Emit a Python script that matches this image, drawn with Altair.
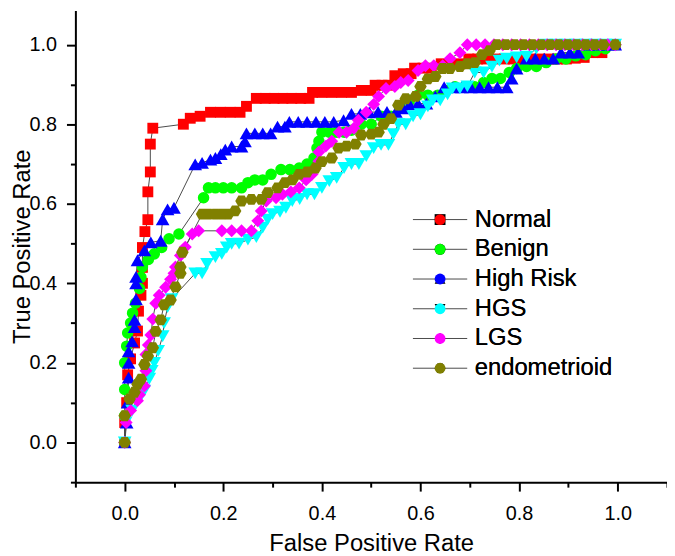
import altair as alt
import pandas as pd

names = ["Normal", "Benign", "High Risk", "HGS", "LGS", "endometrioid"]
colors = ["#FF0000", "#00FF00", "#0000FF", "#00FFFF", "#FF00FF", "#808000"]
hexagon = "M-1,0L-0.5,-0.866L0.5,-0.866L1,0L0.5,0.866L-0.5,0.866Z"
shapes = ["square", "circle", "triangle-up", "triangle-down", "diamond", hexagon]
sizes = [120, 135, 190, 190, 170, 160]

normal_x = [0.000, 0.000, 0.004, 0.006, 0.012, 0.020, 0.026, 0.028, 0.033, 0.036,
            0.036, 0.036, 0.041, 0.047, 0.047, 0.052, 0.052, 0.057, 0.119, 0.133,
            0.153, 0.174, 0.194, 0.214, 0.234, 0.247, 0.267, 0.285, 0.303, 0.321,
            0.339, 0.357, 0.374, 0.381, 0.400, 0.420, 0.440, 0.460, 0.480, 0.500,
            0.508, 0.522, 0.535, 0.548, 0.565, 0.581, 0.588, 0.605, 0.622, 0.642,
            0.660, 0.680, 0.698, 0.716, 0.734, 0.752, 0.770, 0.788, 0.806, 0.824,
            0.842, 0.860, 0.878, 0.896, 0.914, 0.932, 0.950, 0.968, 0.995]
normal_y = [0.000, 0.050, 0.100, 0.170, 0.210, 0.250, 0.280, 0.330, 0.370, 0.400,
            0.440, 0.490, 0.530, 0.560, 0.630, 0.680, 0.750, 0.790, 0.800, 0.815,
            0.820, 0.830, 0.830, 0.830, 0.830, 0.845, 0.865, 0.865, 0.865, 0.865,
            0.865, 0.865, 0.865, 0.880, 0.880, 0.880, 0.880, 0.880, 0.885, 0.885,
            0.898, 0.898, 0.898, 0.922, 0.927, 0.927, 0.941, 0.941, 0.941, 0.952,
            0.952, 0.952, 0.964, 0.964, 0.964, 0.964, 0.964, 0.964, 0.964, 0.964,
            0.964, 0.964, 0.964, 0.964, 0.966, 0.968, 0.980, 0.980, 1.000]

benign_x = [0.000, 0.000, 0.000, 0.000, 0.004, 0.006, 0.012, 0.016, 0.022, 0.030,
            0.033, 0.036, 0.048, 0.060, 0.075, 0.090, 0.110, 0.160, 0.170, 0.184,
            0.200, 0.217, 0.237, 0.250, 0.264, 0.280, 0.297, 0.317, 0.335, 0.354,
            0.370, 0.384, 0.390, 0.394, 0.400, 0.415, 0.430, 0.445, 0.460, 0.480,
            0.500, 0.520, 0.540, 0.560, 0.578, 0.595, 0.615, 0.635, 0.652, 0.670,
            0.690, 0.710, 0.728, 0.745, 0.762, 0.780, 0.795, 0.815, 0.835, 0.855,
            0.875, 0.895, 0.915, 0.935, 0.955, 0.975, 0.995]
benign_y = [0.000, 0.067, 0.133, 0.200, 0.242, 0.275, 0.300, 0.325, 0.350, 0.387,
            0.415, 0.441, 0.460, 0.474, 0.490, 0.512, 0.524, 0.615, 0.640, 0.640,
            0.640, 0.640, 0.640, 0.653, 0.660, 0.660, 0.674, 0.686, 0.686, 0.690,
            0.700, 0.715, 0.740, 0.757, 0.780, 0.780, 0.780, 0.780, 0.785, 0.800,
            0.800, 0.820, 0.820, 0.840, 0.860, 0.873, 0.873, 0.873, 0.885, 0.894,
            0.894, 0.894, 0.905, 0.915, 0.915, 0.930, 0.940, 0.945, 0.945, 0.955,
            0.964, 0.964, 0.972, 0.975, 0.985, 0.990, 1.000]

high_x = [0.000, 0.004, 0.006, 0.008, 0.008, 0.008, 0.015, 0.020, 0.020, 0.023,
          0.023, 0.023, 0.026, 0.040, 0.053, 0.073, 0.077, 0.087, 0.100, 0.143,
          0.157, 0.174, 0.184, 0.195, 0.204, 0.217, 0.237, 0.244, 0.247, 0.264,
          0.280, 0.296, 0.310, 0.325, 0.334, 0.352, 0.370, 0.388, 0.406, 0.424,
          0.444, 0.460, 0.478, 0.496, 0.514, 0.532, 0.550, 0.565, 0.578, 0.595,
          0.612, 0.630, 0.648, 0.666, 0.684, 0.702, 0.720, 0.738, 0.756, 0.775,
          0.785, 0.795, 0.815, 0.833, 0.851, 0.869, 0.885, 0.903, 0.920, 0.940,
          0.960, 0.980, 0.995]
high_y = [0.000, 0.050, 0.100, 0.163, 0.200, 0.229, 0.254, 0.290, 0.308, 0.360,
          0.400, 0.416, 0.458, 0.483, 0.503, 0.507, 0.561, 0.586, 0.590, 0.699,
          0.703, 0.711, 0.715, 0.725, 0.736, 0.744, 0.744, 0.757, 0.777, 0.777,
          0.777, 0.777, 0.794, 0.794, 0.806, 0.806, 0.806, 0.806, 0.806, 0.806,
          0.810, 0.826, 0.826, 0.830, 0.831, 0.831, 0.831, 0.840, 0.850, 0.852,
          0.852, 0.870, 0.893, 0.893, 0.893, 0.893, 0.893, 0.893, 0.893, 0.893,
          0.915, 0.940, 0.965, 0.965, 0.965, 0.965, 0.980, 0.980, 0.980, 1.000,
          1.000, 1.000, 1.000]

hgs_x = [0.000, 0.002, 0.015, 0.030, 0.040, 0.050, 0.055, 0.060, 0.068, 0.077,
         0.080, 0.087, 0.095, 0.143, 0.157, 0.167, 0.184, 0.197, 0.207, 0.217,
         0.232, 0.250, 0.267, 0.280, 0.290, 0.300, 0.315, 0.327, 0.340, 0.355,
         0.370, 0.385, 0.400, 0.415, 0.430, 0.445, 0.460, 0.475, 0.490, 0.505,
         0.520, 0.535, 0.545, 0.555, 0.570, 0.585, 0.600, 0.615, 0.625, 0.640,
         0.655, 0.665, 0.680, 0.695, 0.710, 0.728, 0.745, 0.760, 0.775, 0.795,
         0.815, 0.835, 0.855, 0.875, 0.895, 0.915, 0.935, 0.955, 0.975, 0.995]
hgs_y = [0.000, 0.050, 0.080, 0.110, 0.130, 0.160, 0.180, 0.200, 0.230, 0.267,
         0.300, 0.340, 0.360, 0.425, 0.425, 0.449, 0.466, 0.474, 0.490, 0.499,
         0.500, 0.510, 0.516, 0.540, 0.560, 0.574, 0.580, 0.590, 0.607, 0.612,
         0.624, 0.624, 0.640, 0.657, 0.665, 0.690, 0.700, 0.700, 0.720, 0.740,
         0.748, 0.748, 0.775, 0.800, 0.800, 0.820, 0.825, 0.845, 0.860, 0.860,
         0.875, 0.890, 0.890, 0.895, 0.930, 0.930, 0.945, 0.960, 0.965, 0.968,
         0.970, 0.990, 1.000, 1.000, 1.000, 1.000, 1.000, 1.000, 1.000, 1.000]

lgs_x = [0.000, 0.003, 0.012, 0.026, 0.030, 0.040, 0.043, 0.043, 0.048, 0.053,
         0.057, 0.063, 0.070, 0.083, 0.093, 0.100, 0.103, 0.113, 0.123, 0.137,
         0.150, 0.197, 0.217, 0.237, 0.257, 0.270, 0.277, 0.287, 0.307, 0.320,
         0.337, 0.354, 0.368, 0.380, 0.394, 0.394, 0.408, 0.420, 0.435, 0.450,
         0.465, 0.474, 0.490, 0.505, 0.515, 0.530, 0.548, 0.560, 0.575, 0.595,
         0.610, 0.627, 0.645, 0.660, 0.680, 0.695, 0.713, 0.731, 0.749, 0.767,
         0.785, 0.803, 0.821, 0.839, 0.857, 0.875, 0.893, 0.911, 0.929, 0.947,
         0.965, 0.980, 0.995]
lgs_y = [0.000, 0.050, 0.080, 0.105, 0.120, 0.142, 0.180, 0.221, 0.245, 0.270,
         0.310, 0.350, 0.370, 0.390, 0.410, 0.425, 0.441, 0.470, 0.491, 0.524,
         0.532, 0.532, 0.532, 0.532, 0.532, 0.557, 0.582, 0.607, 0.615, 0.624,
         0.630, 0.640, 0.660, 0.674, 0.707, 0.730, 0.745, 0.757, 0.780, 0.780,
         0.790, 0.810, 0.830, 0.850, 0.870, 0.890, 0.895, 0.905, 0.910, 0.935,
         0.947, 0.947, 0.947, 0.965, 0.980, 1.000, 1.000, 1.000, 1.000, 1.000,
         1.000, 1.000, 1.000, 1.000, 1.000, 1.000, 1.000, 1.000, 1.000, 1.000,
         1.000, 1.000, 1.000]

endo_x = [0.000, 0.000, 0.010, 0.020, 0.026, 0.033, 0.040, 0.047, 0.057, 0.063,
          0.073, 0.080, 0.093, 0.103, 0.113, 0.113, 0.117, 0.157, 0.170, 0.184,
          0.197, 0.210, 0.224, 0.237, 0.257, 0.277, 0.290, 0.310, 0.325, 0.340,
          0.354, 0.370, 0.387, 0.400, 0.420, 0.434, 0.450, 0.468, 0.480, 0.500,
          0.515, 0.525, 0.540, 0.555, 0.570, 0.590, 0.600, 0.615, 0.630, 0.645,
          0.660, 0.680, 0.695, 0.710, 0.725, 0.740, 0.755, 0.773, 0.791, 0.809,
          0.827, 0.845, 0.863, 0.881, 0.899, 0.917, 0.935, 0.953, 0.971, 0.995]
endo_y = [0.000, 0.067, 0.109, 0.126, 0.146, 0.159, 0.196, 0.217, 0.238, 0.279,
          0.308, 0.346, 0.358, 0.391, 0.425, 0.441, 0.478, 0.574, 0.574, 0.574,
          0.574, 0.574, 0.582, 0.607, 0.611, 0.611, 0.628, 0.640, 0.653, 0.660,
          0.674, 0.680, 0.690, 0.706, 0.715, 0.740, 0.745, 0.750, 0.773, 0.775,
          0.780, 0.800, 0.814, 0.848, 0.864, 0.870, 0.895, 0.914, 0.920, 0.940,
          0.940, 0.945, 0.952, 0.955, 0.975, 0.985, 1.000, 1.000, 1.000, 1.000,
          1.000, 1.000, 1.000, 1.000, 1.000, 1.000, 1.000, 1.000, 1.000, 1.000]

x_ticks = [-0.1, 0.0, 0.1, 0.2, 0.3, 0.4, 0.5, 0.6, 0.7, 0.8, 0.9, 1.0, 1.1]
y_ticks = [-0.1, 0.0, 0.1, 0.2, 0.3, 0.4, 0.5, 0.6, 0.7, 0.8, 0.9, 1.0]

series_xy = [(normal_x, normal_y), (benign_x, benign_y), (high_x, high_y),
             (hgs_x, hgs_y), (lgs_x, lgs_y), (endo_x, endo_y)]

rows = []
k = 0
for name, (xs, ys) in zip(names, series_xy):
    assert len(xs) == len(ys), (name, len(xs), len(ys))
    for xv, yv in zip(xs, ys):
        rows.append({"series": name, "x": xv, "y": yv, "idx": k})
        k += 1
df = pd.DataFrame(rows)

FONT = "Liberation Sans"
MAJOR = "abs(round(datum.value*10)) % 2 == 0"
tick_size = {"condition": {"test": MAJOR, "value": 9}, "value": 5}
label_expr = MAJOR + " ? format(datum.value, '.1f') : ''"

common_axis = dict(
    labelExpr=label_expr, tickSize=tick_size, tickWidth=2, tickColor="black",
    domainColor="black", domainWidth=2, labelFontSize=20, labelColor="black",
    labelFont=FONT, titleFontSize=24, titleFontWeight="normal", titleColor="black",
    titleFont=FONT, grid=False, labelFlush=False, labelOverlap=False,
)

x_enc = alt.X("x:Q", title="False Positive Rate",
              scale=alt.Scale(domain=[-0.1, 1.1], nice=False, zero=False),
              axis=alt.Axis(values=x_ticks, labelPadding=13, titlePadding=8, **common_axis))
y_enc = alt.Y("y:Q", title="True Positive Rate",
              scale=alt.Scale(domain=[-0.1, 1.086], nice=False, zero=False),
              axis=alt.Axis(values=y_ticks, labelPadding=10, titleX=-46, titleY=238,
                            titleBaseline="alphabetic", **common_axis))

LX, LY = 356, 199
legend_common = dict(orient="none", legendX=LX, legendY=LY, title=None,
                     symbolSize=120, labelFontSize=24, labelFont=FONT,
                     labelColor="black", rowPadding=6, labelOffset=23, padding=0)

line_gray = "#4a4a4a"
lines = alt.Chart(df).mark_line(strokeWidth=1).encode(
    x=x_enc, y=y_enc,
    stroke=alt.Stroke("series:N", scale=alt.Scale(domain=names, range=[line_gray] * 6),
                      legend=alt.Legend(symbolType="M-5.0,0H-0.8M0.8,0H5.0",
                                        symbolStrokeWidth=1, labelOpacity=0,
                                        **legend_common)),
    order=alt.Order("idx:Q"),
)

fill_enc = alt.Fill("series:N", sort=names, scale=alt.Scale(range=colors),
                    legend=alt.Legend(symbolStrokeWidth=0, **legend_common))
shape_enc = alt.Shape("series:N", sort=names, scale=alt.Scale(range=shapes),
                      legend=alt.Legend(symbolStrokeWidth=0, **legend_common))

point_layers = []
for name, sz in zip(names, sizes):
    point_layers.append(
        alt.Chart(df).transform_filter(alt.datum.series == name)
        .mark_point(filled=True, opacity=1, strokeWidth=0, size=sz)
        .encode(x=x_enc, y=y_enc, fill=fill_enc, shape=shape_enc,
                order=alt.Order("idx:Q"))
    )

chart = alt.layer(lines, *point_layers).properties(
    width=597, height=476,
    padding={"left": 68, "top": 0, "right": 0, "bottom": 72},
    autosize="none",
).configure(font=FONT).configure_view(stroke=None)

chart.save("out.html", embed_options={"renderer": "svg", "actions": False})
